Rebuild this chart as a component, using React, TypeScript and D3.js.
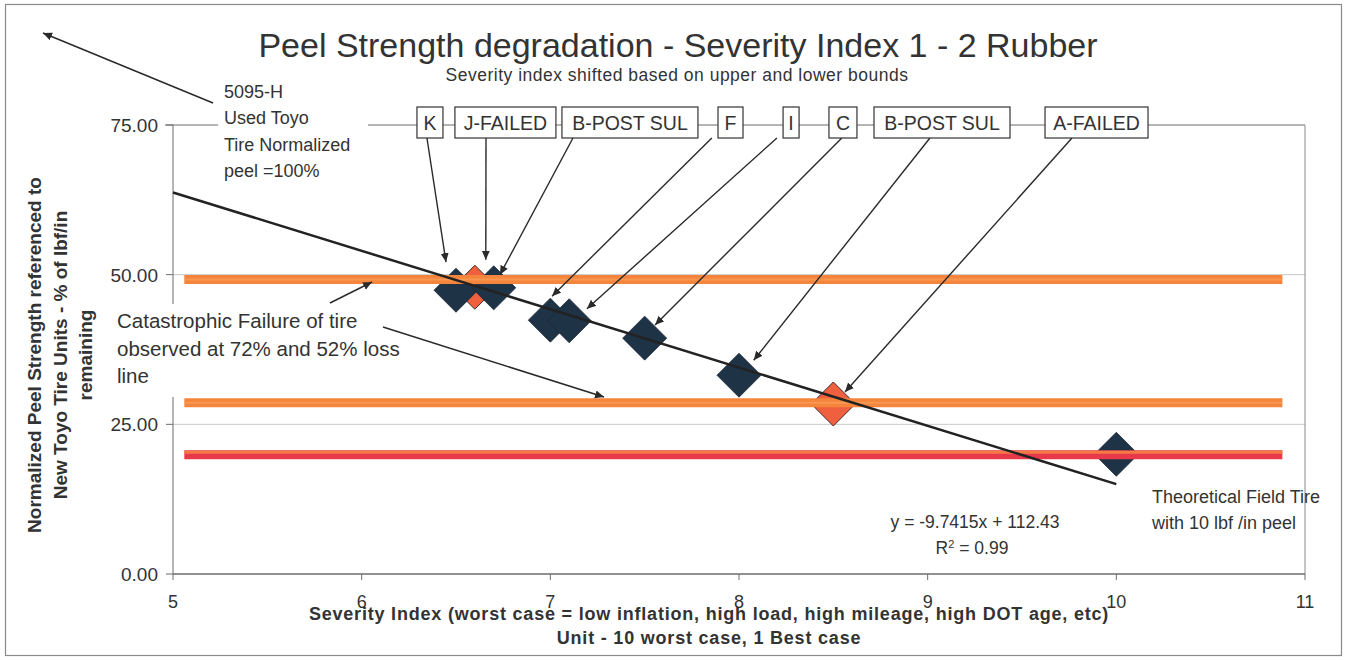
import React from "react";
import * as d3 from "d3";

// ---------- data ----------
const xTicks = [5, 6, 7, 8, 9, 10, 11];
const yTicks = [0, 25, 50, 75];
const yTickLabels = ["0.00", "25.00", "50.00", "75.00"];

const darkX = [6.5, 6.7, 7.0, 7.1, 7.5, 8.0, 10.0];
const darkY = [47.4, 47.8, 42.4, 42.3, 39.4, 33.2, 20.0];
const redX = [6.6, 8.5];
const redY = [47.9, 28.4];

const orangeBands = [49.2, 28.6];
const redBand = 19.9;
const bandRange = [5.06, 10.88];

const trendSlope = -9.7415;
const trendIntercept = 112.43;
const trendRange = [5, 10];

const labelNames = ["K", "J-FAILED", "B-POST SUL", "F", "I", "C", "B-POST SUL", "A-FAILED"];
const labelCenterX = [6.362, 6.762, 7.422, 7.955, 8.276, 8.551, 9.076, 9.895];
const arrowStartX = [6.346, 6.659, 7.120, 7.856, 8.201, 8.545, 9.012, 9.765];
const arrowTipX = [6.447, 6.658, 6.733, 7.009, 7.194, 7.555, 8.078, 8.562];
const arrowTipY = [52.1, 52.5, 50.0, 46.4, 44.3, 41.6, 35.7, 30.4];

const title = "Peel Strength degradation - Severity Index 1 - 2 Rubber";
const subtitle = "Severity index shifted based on upper and lower bounds";
const yTitle = ["Normalized Peel Strength referenced to", "New Toyo Tire Units - % of lbf/in", "remaining"];
const xTitle = ["Severity Index (worst case = low inflation, high load, high mileage, high DOT age, etc)", "Unit - 10 worst case, 1 Best case"];
const toyoNote = ["5095-H", "Used Toyo", "Tire Normalized", "peel =100%"];
const catNote = ["Catastrophic Failure of tire", "observed at 72% and 52% loss", "line"];
const fieldNote = ["Theoretical Field Tire", "with 10 lbf /in peel"];
const eqText = "y = -9.7415x + 112.43";

// ---------- layout ----------
const W = 1347, H = 660;
const X0 = 173, X1 = 1305, Y0 = 574, Y1 = 125;
const FONT = "'Liberation Sans', Arial, sans-serif";
const boxWidths = [26, 101, 136, 25, 16, 28, 136, 103];
const boxTop = 107, boxH = 31;

export default function App() {
  const x = d3.scaleLinear().domain([5, 11]).range([X0, X1]);
  const y = d3.scaleLinear().domain([0, 75]).range([Y0, Y1]);
  const diamond = (cx: number, cy: number, r: number) =>
    `M${cx},${cy - r}L${cx + r},${cy}L${cx},${cy + r}L${cx - r},${cy}Z`;
  const R = 22;
  const trendLine = d3.line<number>()
    .x((d) => x(d))
    .y((d) => y(trendSlope * d + trendIntercept))(trendRange);

  return (
    <div style={{ position: "absolute", left: 0, top: 0 }}>
      <svg width={W} height={H} style={{ display: "block", background: "#fff" }} fontFamily={FONT}>
        <defs>
          <marker id="ah" viewBox="0 0 10 10" refX="10" refY="5" markerWidth="9" markerHeight="9"
            markerUnits="userSpaceOnUse" orient="auto">
            <path d="M0,0.5L10,5L0,9.5Z" fill="#2a2a2a" />
          </marker>
        </defs>
        {/* outer frame */}
        <rect x={5.5} y={4.5} width={1336} height={651} fill="none" stroke="#8a8a8a" strokeWidth={1.2} />

        {/* gridlines & plot border */}
        {yTicks.filter((t) => t > 0 && t < 75).map((t) => (
          <line key={"g" + t} x1={X0} x2={X1} y1={y(t)} y2={y(t)} stroke="#c9c9c9" strokeWidth={1} />
        ))}
        <line x1={X0 - 8} x2={X1} y1={y(75)} y2={y(75)} stroke="#6d6d6d" strokeWidth={1} />
        <line x1={X1} x2={X1} y1={y(75)} y2={y(0)} stroke="#8a8a8a" strokeWidth={1} />
        <line x1={X0} x2={X0} y1={y(75)} y2={y(0)} stroke="#6d6d6d" strokeWidth={1} />
        <line x1={X0} x2={X1} y1={y(0)} y2={y(0)} stroke="#6d6d6d" strokeWidth={1.5} />

        {/* y ticks */}
        {yTicks.map((t, i) => (
          <g key={"yt" + t}>
            <line x1={X0 - 7} x2={X0} y1={y(t)} y2={y(t)} stroke="#6d6d6d" />
            <text x={X0 - 15} y={y(t) + 7} textAnchor="end" fontSize={19} fill="#333">{yTickLabels[i]}</text>
          </g>
        ))}
        {/* x ticks */}
        {xTicks.map((t) => (
          <g key={"xt" + t}>
            <line x1={x(t)} x2={x(t)} y1={y(0)} y2={y(0) + 6} stroke="#6d6d6d" />
            <text x={x(t)} y={608} textAnchor="middle" fontSize={18} fill="#333">{t}</text>
          </g>
        ))}

        {/* markers: red series then dark series */}
        {redX.map((v, i) => (
          <path key={"r" + i} d={diamond(x(v), y(redY[i]), R)} fill="#f0603f" stroke="#3a2a2a" strokeWidth={1} />
        ))}
        {darkX.map((v, i) => (
          <path key={"d" + i} d={diamond(x(v), y(darkY[i]), R)} fill="#1f3347" stroke="#1a2633" strokeWidth={0.8} />
        ))}

        {/* bands */}
        {orangeBands.map((b) => (
          <g key={"b" + b}>
            <line x1={x(bandRange[0])} x2={x(bandRange[1])} y1={y(b)} y2={y(b)} stroke="#f5853c" strokeWidth={9} />
            <line x1={x(bandRange[0])} x2={x(bandRange[1])} y1={y(b)} y2={y(b)} stroke="#f9a05a" strokeWidth={2} opacity={0.7} />
          </g>
        ))}
        <line x1={x(bandRange[0])} x2={x(bandRange[1])} y1={y(redBand)} y2={y(redBand)} stroke="#e8394b" strokeWidth={9} />
        <line x1={x(bandRange[0])} x2={x(bandRange[1])} y1={y(redBand) - 2.5} y2={y(redBand) - 2.5} stroke="#f47a45" strokeWidth={3} />

        {/* trendline */}
        <path d={trendLine || ""} fill="none" stroke="#222" strokeWidth={2.5} />

        {/* toyo note */}
        <rect x={218} y={80} width={150} height={104} fill="#fff" />
        {toyoNote.map((s, i) => (
          <text key={"tn" + i} x={224} y={98 + i * 26.3} fontSize={18} fill="#333">{s}</text>
        ))}
        <line x1={213} y1={103} x2={43} y2={33} stroke="#2a2a2a" strokeWidth={1.5} markerEnd="url(#ah)" />

        {/* catastrophic note */}
        <rect x={112} y={304} width={305} height={93} fill="#fff" />
        {catNote.map((s, i) => (
          <text key={"cn" + i} x={117} y={328 + i * 27.5} fontSize={20.5} fill="#333">{s}</text>
        ))}
        <line x1={330} y1={303} x2={372} y2={282} stroke="#2a2a2a" strokeWidth={1.5} markerEnd="url(#ah)" />
        <line x1={383} y1={327} x2={604} y2={397} stroke="#2a2a2a" strokeWidth={1.5} markerEnd="url(#ah)" />

        {/* label arrows */}
        {labelNames.map((n, i) => (
          <line key={"la" + i} x1={x(arrowStartX[i])} y1={boxTop + boxH} x2={x(arrowTipX[i])} y2={y(arrowTipY[i])}
            stroke="#2a2a2a" strokeWidth={1.4} markerEnd="url(#ah)" />
        ))}
        {/* label boxes */}
        {labelNames.map((n, i) => (
          <g key={"lb" + i}>
            <rect x={x(labelCenterX[i]) - boxWidths[i] / 2} y={boxTop} width={boxWidths[i]} height={boxH}
              fill="#fff" stroke="#333" strokeWidth={1.2} />
            <text x={x(labelCenterX[i])} y={boxTop + 22.5} textAnchor="middle" fontSize={19.5} fill="#333">{n}</text>
          </g>
        ))}

        {/* field tire note */}
        {fieldNote.map((s, i) => (
          <text key={"fn" + i} x={1152} y={503 + i * 26} fontSize={18} fill="#333">{s}</text>
        ))}
        <text x={975} y={528} textAnchor="middle" fontSize={17.5} fill="#333">{eqText}</text>
        <text x={972} y={554} textAnchor="middle" fontSize={17.5} fill="#333">
          R<tspan dy={-6} fontSize={11}>2</tspan><tspan dy={6}> = 0.99</tspan>
        </text>

        {/* titles */}
        <text x={678} y={57} textAnchor="middle" fontSize={34} fill="#333">{title}</text>
        <text x={677} y={81} textAnchor="middle" fontSize={17.5} letterSpacing={0.5} fill="#333">{subtitle}</text>
        {yTitle.map((s, i) => (
          <text key={"yt" + i} transform={`translate(${41 + i * 25.5},355) rotate(-90)`} textAnchor="middle"
            fontSize={19} fontWeight="bold" fill="#333">{s}</text>
        ))}
        {xTitle.map((s, i) => (
          <text key={"xt" + i} x={709} y={620 + i * 24} textAnchor="middle" fontSize={18} letterSpacing={0.8}
            fontWeight="bold" fill="#333">{s}</text>
        ))}
      </svg>
    </div>
  );
}
